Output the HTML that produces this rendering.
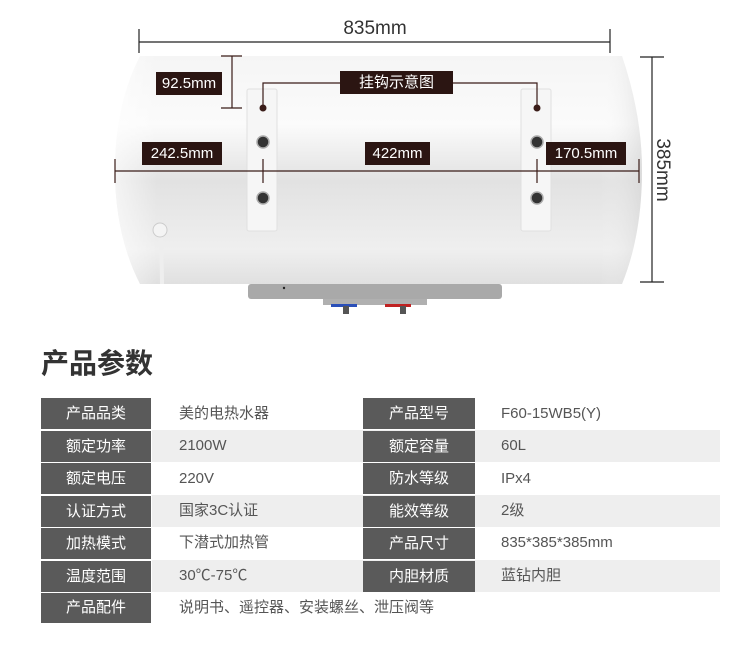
<!DOCTYPE html>
<html><head><meta charset="utf-8"><style>
body{margin:0;width:750px;height:670px;background:#fff;position:relative;overflow:hidden;font-family:"Liberation Sans","Noto Sans CJK SC",sans-serif}
.a{position:absolute}
.lb{position:absolute;background:#2b1512;color:#fff;font-size:15px;line-height:23px;text-align:center}
.h{position:absolute;background:#5a5a5a;color:#fff;font-size:15px;text-align:center;line-height:31px;height:31px;width:110px}
.v{position:absolute;color:#555;font-size:15px;line-height:32px}
.g{position:absolute;background:#eeeeee;height:32px}
</style></head><body>
<svg class="a" style="left:0;top:0" width="750" height="330">
<defs>
<linearGradient id="t" x1="0" y1="0" x2="0" y2="1">
<stop offset="0" stop-color="#f5f5f5"/><stop offset="0.3" stop-color="#fbfbfb"/><stop offset="0.55" stop-color="#e2e2e2"/><stop offset="0.85" stop-color="#efefef"/><stop offset="1" stop-color="#e0e0e0"/></linearGradient>
<linearGradient id="s" x1="0" y1="0" x2="1" y2="0">
<stop offset="0" stop-color="#fff" stop-opacity="0.6"/><stop offset="0.08" stop-color="#fff" stop-opacity="0"/><stop offset="0.92" stop-color="#fff" stop-opacity="0"/><stop offset="1" stop-color="#ccc" stop-opacity="0.4"/></linearGradient>
</defs>
<path d="M140,56 L622,56 Q642,115 642,170 Q642,235 622,284 L140,284 Q115,235 115,170 Q115,105 140,56 Z" fill="url(#t)"/>
<path d="M140,56 L622,56 Q642,115 642,170 Q642,235 622,284 L140,284 Q115,235 115,170 Q115,105 140,56 Z" fill="url(#s)"/>
<rect x="248" y="284" width="254" height="15" rx="3" fill="#a9a9a9"/>
<circle cx="284" cy="288" r="1.2" fill="#222"/>
<rect x="323" y="299" width="104" height="6" fill="#b0b0b0"/>
<rect x="331" y="304" width="26" height="3" fill="#2a4fb8"/>
<rect x="385" y="304" width="26" height="3" fill="#c02222"/>
<rect x="343" y="306" width="6" height="8" fill="#555"/>
<rect x="400" y="306" width="6" height="8" fill="#555"/>
<rect x="247" y="89" width="30" height="142" rx="2" fill="#f6f6f6" stroke="#e0e0e0"/>
<rect x="521" y="89" width="30" height="142" rx="2" fill="#f6f6f6" stroke="#e0e0e0"/>
<g fill="#333" stroke="#aaa" stroke-width="1.5">
<circle cx="263" cy="142" r="6"/><circle cx="263" cy="198" r="6"/><circle cx="537" cy="142" r="6"/><circle cx="537" cy="198" r="6"/></g>
<path d="M160,232 Q162,260 162,284" stroke="#eee" stroke-width="4" fill="none"/>
<circle cx="160" cy="230" r="7" fill="#f4f4f4" stroke="#ccc"/>
<g stroke="#222" stroke-width="1.2" fill="none">
<line x1="139" y1="42" x2="610" y2="42"/><line x1="139" y1="29" x2="139" y2="53"/><line x1="610" y1="29" x2="610" y2="53"/>
<line x1="652" y1="57" x2="652" y2="282"/><line x1="640" y1="57" x2="664" y2="57"/><line x1="640" y1="282" x2="664" y2="282"/>
</g>
<g stroke="#3a1c18" stroke-width="1.2" fill="none">
<line x1="232" y1="56" x2="232" y2="108"/><line x1="221" y1="56" x2="242" y2="56"/><line x1="221" y1="108" x2="242" y2="108"/>
<polyline points="263,108 263,83 340,83"/><polyline points="453,83 537,83 537,108"/>
<line x1="115" y1="171" x2="639" y2="171"/><line x1="115" y1="159" x2="115" y2="183"/><line x1="639" y1="159" x2="639" y2="183"/>
<line x1="263" y1="159" x2="263" y2="183"/><line x1="537" y1="159" x2="537" y2="183"/>
</g>
<circle cx="263" cy="108" r="3.5" fill="#3a1c18"/><circle cx="537" cy="108" r="3.5" fill="#3a1c18"/>
<text x="375" y="34" font-size="19" fill="#333" text-anchor="middle" font-family="Liberation Sans">835mm</text>
<text transform="translate(657,170) rotate(90)" font-size="19" fill="#333" text-anchor="middle" font-family="Liberation Sans">385mm</text>
</svg>
<div class="lb" style="left:156px;top:72px;width:66px">92.5mm</div>
<div class="lb" style="left:340px;top:71px;width:113px">挂钩示意图</div>
<div class="lb" style="left:142px;top:142px;width:80px">242.5mm</div>
<div class="lb" style="left:365px;top:142px;width:65px">422mm</div>
<div class="lb" style="left:546px;top:142px;width:80px">170.5mm</div>
<div class="a" style="left:41px;top:346px;font-size:28px;font-weight:bold;color:#333;line-height:36px">产品参数</div>
<div class="g" style="left:152px;top:430px;width:568px"></div>
<div class="g" style="left:152px;top:495px;width:568px"></div>
<div class="g" style="left:152px;top:560px;width:568px"></div>
<div class="h" style="left:41px;top:398px">产品品类</div><div class="v" style="left:179px;top:398px">美的电热水器</div>
<div class="h" style="left:363px;top:398px;width:112px">产品型号</div><div class="v" style="left:501px;top:398px">F60-15WB5(Y)</div>
<div class="h" style="left:41px;top:431px">额定功率</div><div class="v" style="left:179px;top:430px">2100W</div>
<div class="h" style="left:363px;top:431px;width:112px">额定容量</div><div class="v" style="left:501px;top:430px">60L</div>
<div class="h" style="left:41px;top:463px">额定电压</div><div class="v" style="left:179px;top:463px">220V</div>
<div class="h" style="left:363px;top:463px;width:112px">防水等级</div><div class="v" style="left:501px;top:463px">IPx4</div>
<div class="h" style="left:41px;top:496px">认证方式</div><div class="v" style="left:179px;top:495px">国家3C认证</div>
<div class="h" style="left:363px;top:496px;width:112px">能效等级</div><div class="v" style="left:501px;top:495px">2级</div>
<div class="h" style="left:41px;top:528px">加热模式</div><div class="v" style="left:179px;top:527px">下潜式加热管</div>
<div class="h" style="left:363px;top:528px;width:112px">产品尺寸</div><div class="v" style="left:501px;top:527px">835*385*385mm</div>
<div class="h" style="left:41px;top:561px">温度范围</div><div class="v" style="left:179px;top:560px">30℃-75℃</div>
<div class="h" style="left:363px;top:561px;width:112px">内胆材质</div><div class="v" style="left:501px;top:560px">蓝钻内胆</div>
<div class="h" style="left:41px;top:593px;height:30px;line-height:30px">产品配件</div><div class="v" style="left:179px;top:592px">说明书、遥控器、安装螺丝、泄压阀等</div>
</body></html>
